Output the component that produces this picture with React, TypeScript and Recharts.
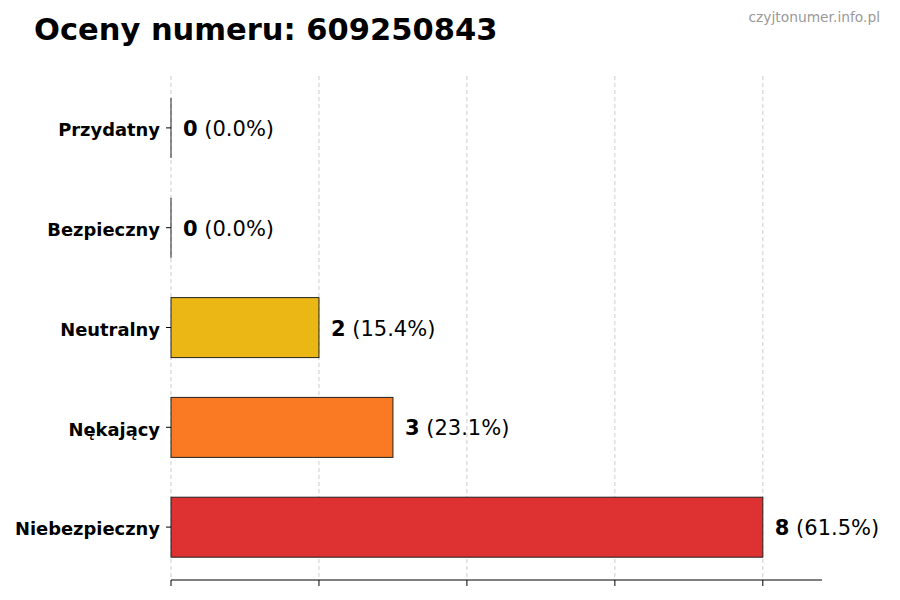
import React from 'react'
import { BarChart, Bar, XAxis, YAxis, CartesianGrid, Cell, LabelList } from 'recharts'

// Ratings for the phone number
const categories = ['Przydatny', 'Bezpieczny', 'Neutralny', 'Nękający', 'Niebezpieczny']
const counts = [0, 0, 2, 3, 8]
const colors = ['#22c55e', '#3b82f6', '#eab308', '#f97316', '#dc2626']
const xTicks = [0, 2, 4, 6, 8]

const total = counts.reduce((a, b) => a + b, 0)

const data = categories.map((name, i) => ({
  name,
  value: counts[i],
  pct: total ? (counts[i] / total) * 100 : 0,
}))

const FONT = 'DejaVu Sans, sans-serif'

// bar shape that still shows the edge when value is 0
const BarShape = (props: any) => {
  const { x, y, width, height, fill } = props
  if (!width) {
    return <line x1={x} x2={x} y1={y} y2={y + height} stroke="#222" strokeWidth={1} />
  }
  return (
    <rect x={x} y={y} width={width} height={height} fill={fill} fillOpacity={0.95} stroke="#222" strokeWidth={1} />
  )
}

const ValueLabel = (props: any) => {
  const { x, y, width, height, index } = props
  const d = data[index]
  return (
    <text
      x={x + width + 12}
      y={y + height / 2 + 1}
      dominantBaseline="central"
      fontFamily={FONT}
      fontSize={21}
      fill="#000"
    >
      <tspan fontWeight="bold">{d.value}</tspan>
      <tspan> ({d.pct.toFixed(1)}%)</tspan>
    </text>
  )
}

export default function App() {
  return (
    <div style={{ position: 'absolute', left: 0, top: 0, width: 900, height: 600, background: '#fff' }}>
      <svg width={900} height={60} style={{ position: 'absolute', left: 0, top: 0 }}>
        <text x={34} y={40} fontFamily={FONT} fontWeight="bold" fontSize={30.5} fill="#000">
          Oceny numeru: 609250843
        </text>
        <text x={880} y={22} textAnchor="end" fontFamily={FONT} fontSize={13.8} fill="#999">
          czyjtonumer.info.pl
        </text>
      </svg>
      <BarChart
        width={900}
        height={600}
        data={data}
        layout="vertical"
        margin={{ top: 76, right: 78, bottom: 0, left: 0 }}
        style={{ position: 'absolute', left: 0, top: 0 }}
      >
        <CartesianGrid horizontal={false} stroke="#cccccc" strokeDasharray="4 3" syncWithTicks />
        <XAxis
          type="number"
          domain={[0, 8.8]}
          ticks={xTicks}
          height={20}
          tickFormatter={() => ''}
          axisLine={{ stroke: '#000' }}
          tickLine={{ stroke: '#000' }}
          tickSize={6}
        />
        <YAxis
          type="category"
          dataKey="name"
          width={171}
          axisLine={false}
          tickLine={{ stroke: '#000' }}
          tickSize={5}
          tickMargin={6}
          padding={{ top: 2, bottom: 3 }}
          tick={{ fontFamily: FONT, fontWeight: 'bold', fontSize: 17.9, fill: '#000', dy: 2 }}
        />
        <Bar dataKey="value" barSize={60} shape={<BarShape />} isAnimationActive={false}>
          {data.map((d, i) => (
            <Cell key={d.name} fill={colors[i]} />
          ))}
          <LabelList dataKey="value" content={<ValueLabel />} />
        </Bar>
      </BarChart>
    </div>
  )
}
